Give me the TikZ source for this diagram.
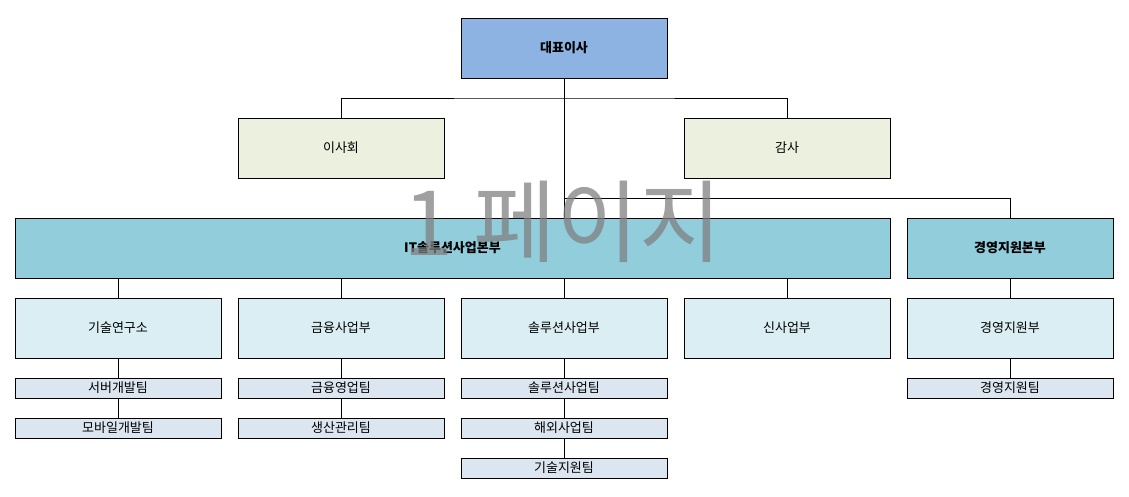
\documentclass[tikz,border=0pt]{standalone}
\usepackage{fontspec}
\setmainfont{Noto Sans CJK KR}
\definecolor{ceoblue}{HTML}{8DB3E2}
\definecolor{boardgreen}{HTML}{EBF1DE}
\definecolor{divteal}{HTML}{92CDDC}
\definecolor{deptcyan}{HTML}{DAEEF3}
\definecolor{teamgrey}{HTML}{DCE6F1}
\tikzset{
  orgbox/.style={draw=black, line width=0.6pt, minimum width=206pt, minimum height=60pt, inner sep=0pt, font=\fontsize{13}{15}\selectfont},
  teambox/.style={draw=black, line width=0.6pt, fill=teamgrey, minimum width=206pt, minimum height=20pt, inner sep=0pt, font=\fontsize{13}{15}\selectfont},
  link/.style={draw=black, line width=0.6pt}
}
\begin{document}
\begin{tikzpicture}[x=1pt,y=-1pt]
\useasboundingbox (0,0) rectangle (1129,497);
% top level
\node[orgbox, fill=ceoblue, font=\fontsize{13}{15}\selectfont\bfseries] (ceo) at (564,48) {대표이사};
\node[orgbox, fill=boardgreen] (board) at (341,148) {이사회};
\node[orgbox, fill=boardgreen] (audit) at (787,148) {감사};
% divisions
\node[orgbox, fill=divteal, minimum width=875pt, font=\fontsize{13}{15}\selectfont\bfseries] (itdiv) at (452.5,248) {IT솔루션사업본부};
\node[orgbox, fill=divteal, font=\fontsize{13}{15}\selectfont\bfseries] (mgmtdiv) at (1010,248) {경영지원본부};
% departments
\node[orgbox, fill=deptcyan] (lab) at (118,328) {기술연구소};
\node[orgbox, fill=deptcyan] (fin) at (341,328) {금융사업부};
\node[orgbox, fill=deptcyan] (sol) at (564,328) {솔루션사업부};
\node[orgbox, fill=deptcyan] (newbiz) at (787,328) {신사업부};
\node[orgbox, fill=deptcyan] (mgmt) at (1010,328) {경영지원부};
% teams
\node[teambox] (server) at (118,388) {서버개발팀};
\node[teambox] (mobile) at (118,428) {모바일개발팀};
\node[teambox] (finsales) at (341,388) {금융영업팀};
\node[teambox] (prod) at (341,428) {생산관리팀};
\node[teambox] (solbiz) at (564,388) {솔루션사업팀};
\node[teambox] (overseas) at (564,428) {해외사업팀};
\node[teambox] (support) at (564,468) {기술지원팀};
\node[teambox] (mgmtteam) at (1010,388) {경영지원팀};
% connectors
\coordinate (j1) at (564,98);
\coordinate (j2) at (564,198);
\draw[link] (ceo.south) -- (itdiv.north -| ceo.south);
\draw[link] (board.north) |- (j1) -| (audit.north);
\draw[link] (j2) -| (mgmtdiv.north);
\foreach \d in {lab,fin,sol,newbiz}
  \draw[link] (\d.north) -- (\d.north |- itdiv.south);
\draw[link] (mgmtdiv) -- (mgmt);
\draw[link] (lab) -- (server) -- (mobile);
\draw[link] (fin) -- (finsales) -- (prod);
\draw[link] (sol) -- (solbiz) -- (overseas) -- (support);
\draw[link] (mgmt) -- (mgmtteam);
% watermark
\node[text=black!50, opacity=0.75, font=\fontsize{90}{100}\selectfont] (mark) at (563,222) {1 페이지};
\end{tikzpicture}
\end{document}
